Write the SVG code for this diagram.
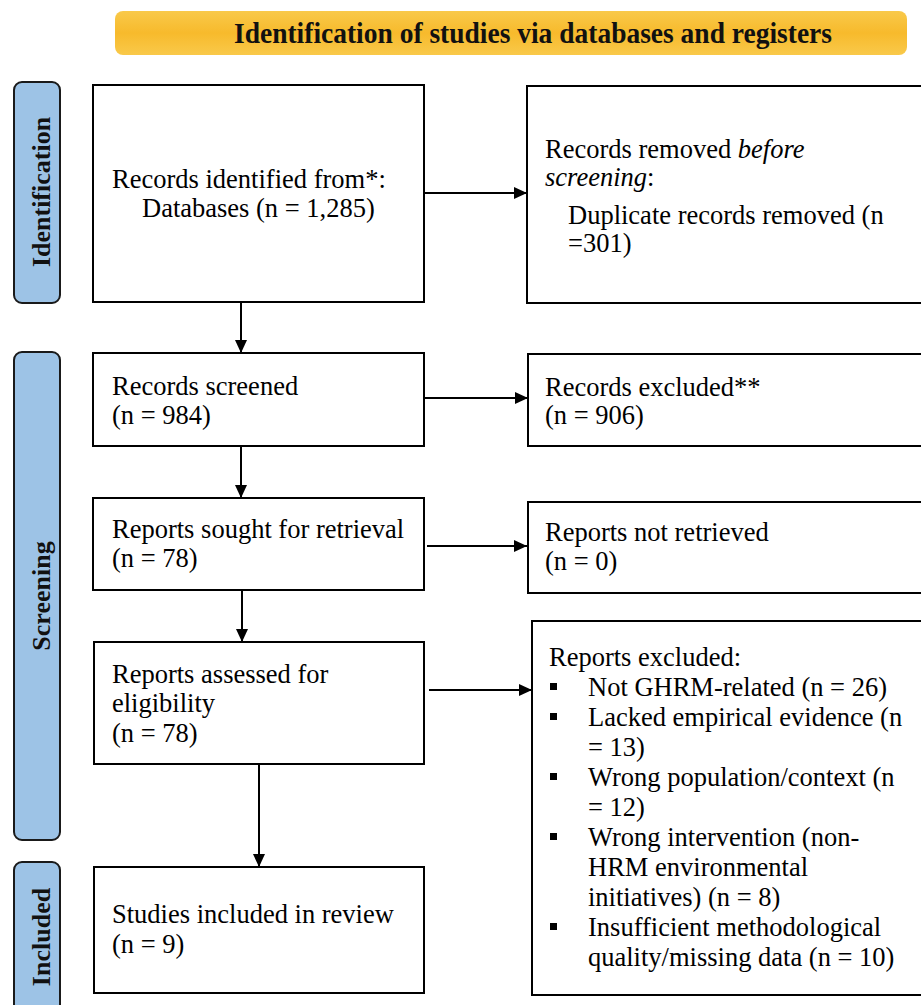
<svg xmlns="http://www.w3.org/2000/svg" width="921" height="1005" viewBox="0 0 921 1005">
<defs>
<linearGradient id="gold" x1="0" y1="0" x2="0" y2="1">
<stop offset="0" stop-color="#F9C94A"/>
<stop offset="0.5" stop-color="#F7BA2C"/>
<stop offset="1" stop-color="#F9C94A"/>
</linearGradient>
<marker id="arr" markerUnits="userSpaceOnUse" markerWidth="13" markerHeight="12" refX="13" refY="6" orient="auto">
<path d="M0,0 L13,6 L0,12 z" fill="#000"/>
</marker>
<style>
.box{fill:#fff;stroke:#000;stroke-width:2}
.phase{fill:#9DC3E6;stroke:#1a1a1a;stroke-width:2}
.t{font-family:"Liberation Serif","Times New Roman",serif;font-size:26.5px;fill:#000}
.pt{font-family:"Liberation Serif","Times New Roman",serif;font-size:26px;font-weight:bold;fill:#111}
.ht{font-family:"Liberation Serif","Times New Roman",serif;font-size:30px;font-weight:bold;fill:#111}
.c{fill:none;stroke:#000;stroke-width:2;marker-end:url(#arr)}
.i{font-style:italic}
</style>
</defs>
<rect width="921" height="1005" fill="#fff"/>
<g id="banner">
<rect x="115" y="11" width="792" height="44" rx="8" fill="url(#gold)"/>
<text class="ht" x="533" y="43" text-anchor="middle" textLength="598" lengthAdjust="spacingAndGlyphs">Identification of studies via databases and registers</text>
</g>
<g id="phase-identification">
<rect class="phase" x="14" y="82" width="46" height="221" rx="8"/>
<text class="pt" transform="translate(50,192) rotate(-90)" text-anchor="middle">Identification</text>
</g>
<g id="phase-screening">
<rect class="phase" x="14" y="352" width="46" height="488" rx="8"/>
<text class="pt" transform="translate(50,596) rotate(-90)" text-anchor="middle">Screening</text>
</g>
<g id="phase-included">
<rect class="phase" x="14" y="862" width="46" height="170" rx="8"/>
<text class="pt" transform="translate(50,937) rotate(-90)" text-anchor="middle">Included</text>
</g>
<g id="n-identified">
<rect class="box" x="93" y="85" width="331" height="217"/>
<text class="t" x="112" y="188">Records identified from*:</text>
<text class="t" x="142" y="217">Databases (n = 1,285)</text>
</g>
<g id="n-removed">
<rect class="box" x="527" y="86" width="400" height="217"/>
<text class="t" x="545" y="158">Records removed <tspan class="i">before</tspan></text>
<text class="t" x="545" y="186"><tspan class="i">screening</tspan>:</text>
<text class="t" x="568" y="224">Duplicate records removed (n</text>
<text class="t" x="568" y="252">=301)</text>
</g>
<g id="n-screened">
<rect class="box" x="93" y="353" width="331" height="93"/>
<text class="t" x="112" y="395">Records screened</text>
<text class="t" x="112" y="424">(n = 984)</text>
</g>
<g id="n-excluded">
<rect class="box" x="528" y="354" width="400" height="92"/>
<text class="t" x="545" y="396">Records excluded**</text>
<text class="t" x="545" y="424">(n = 906)</text>
</g>
<g id="n-sought">
<rect class="box" x="93" y="498" width="331" height="92"/>
<text class="t" x="112" y="538">Reports sought for retrieval</text>
<text class="t" x="112" y="567">(n = 78)</text>
</g>
<g id="n-notretrieved">
<rect class="box" x="528" y="502" width="400" height="91"/>
<text class="t" x="545" y="541">Reports not retrieved</text>
<text class="t" x="545" y="570">(n = 0)</text>
</g>
<g id="n-assessed">
<rect class="box" x="94" y="642" width="330" height="122"/>
<text class="t" x="112" y="683">Reports assessed for</text>
<text class="t" x="112" y="712">eligibility</text>
<text class="t" x="112" y="742">(n = 78)</text>
</g>
<g id="n-reportsexcluded">
<rect class="box" x="532" y="621" width="400" height="374"/>
<text class="t" x="549" y="666">Reports excluded:</text>
<rect x="550" y="683" width="7" height="7"/>
<text class="t" x="588" y="696">Not GHRM-related (n = 26)</text>
<rect x="550" y="713" width="7" height="7"/>
<text class="t" x="588" y="726">Lacked empirical evidence (n</text>
<text class="t" x="588" y="756">= 13)</text>
<rect x="550" y="773" width="7" height="7"/>
<text class="t" x="588" y="786">Wrong population/context (n</text>
<text class="t" x="588" y="816">= 12)</text>
<rect x="550" y="833" width="7" height="7"/>
<text class="t" x="588" y="846">Wrong intervention (non-</text>
<text class="t" x="588" y="876">HRM environmental</text>
<text class="t" x="588" y="906">initiatives) (n = 8)</text>
<rect x="550" y="923" width="7" height="7"/>
<text class="t" x="588" y="936">Insufficient methodological</text>
<text class="t" x="588" y="966">quality/missing data (n = 10)</text>
</g>
<g id="n-included">
<rect class="box" x="94" y="867" width="330" height="126"/>
<text class="t" x="112" y="923">Studies included in review</text>
<text class="t" x="112" y="953">(n = 9)</text>
</g>
<g id="connectors">
<line class="c" x1="424" y1="193" x2="527" y2="193"/>
<line class="c" x1="241" y1="302" x2="241" y2="353"/>
<line class="c" x1="424" y1="398" x2="528" y2="398"/>
<line class="c" x1="241" y1="446" x2="241" y2="498"/>
<line class="c" x1="427" y1="546" x2="527" y2="546"/>
<line class="c" x1="242" y1="590" x2="242" y2="642"/>
<line class="c" x1="429" y1="690" x2="532" y2="690"/>
<line class="c" x1="259" y1="764" x2="259" y2="867"/>
</g>
</svg>
